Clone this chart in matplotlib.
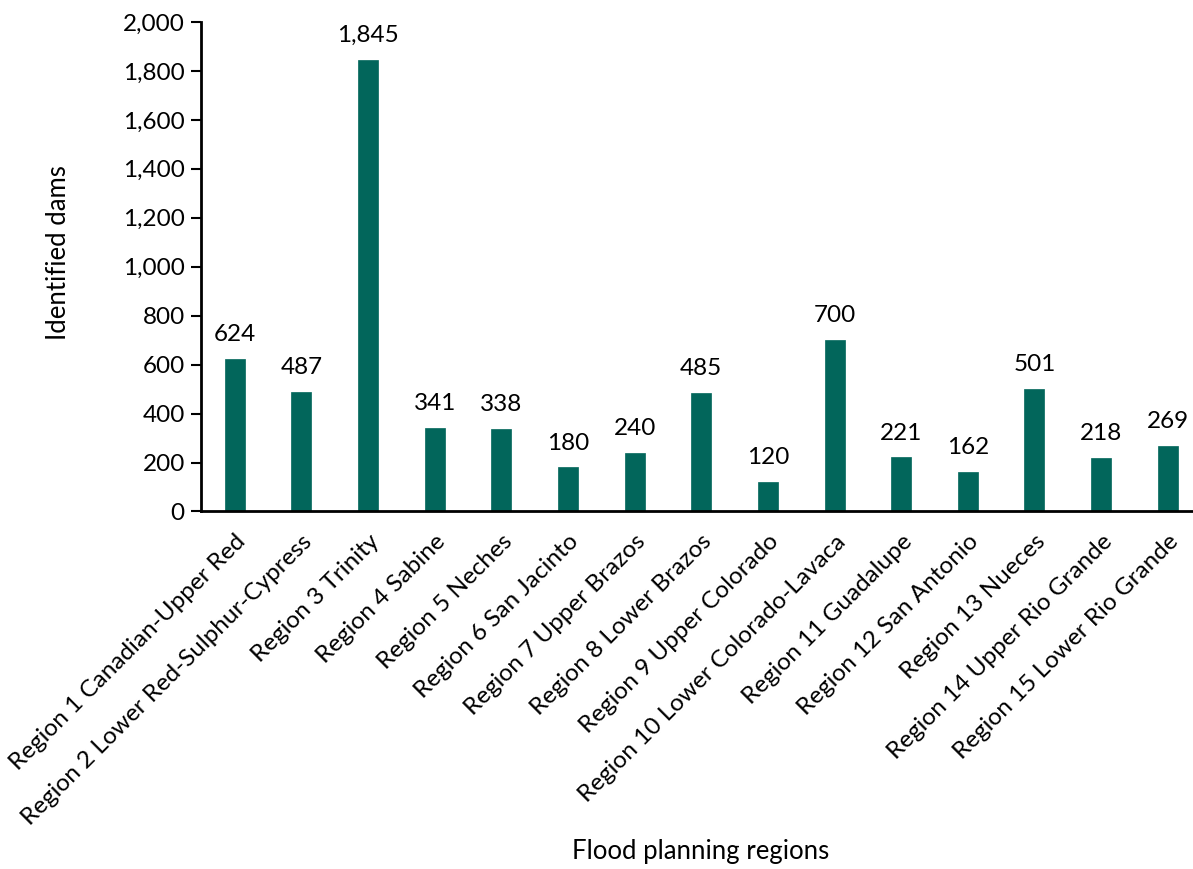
import matplotlib
matplotlib.use("Agg")
import matplotlib.pyplot as plt
from matplotlib.ticker import FuncFormatter, MultipleLocator

regions = [
    "Region 1 Canadian-Upper Red",
    "Region 2 Lower Red-Sulphur-Cypress",
    "Region 3 Trinity",
    "Region 4 Sabine",
    "Region 5 Neches",
    "Region 6 San Jacinto",
    "Region 7 Upper Brazos",
    "Region 8 Lower Brazos",
    "Region 9 Upper Colorado",
    "Region 10 Lower Colorado-Lavaca",
    "Region 11 Guadalupe",
    "Region 12 San Antonio",
    "Region 13 Nueces",
    "Region 14 Upper Rio Grande",
    "Region 15 Lower Rio Grande",
]
dams = [624, 487, 1845, 341, 338, 180, 240, 485, 120, 700, 221, 162, 501, 218, 269]

plt.rcParams['font.family'] = ['Lato', 'DejaVu Sans']
fs = 17.5

fig = plt.figure(figsize=(11.93, 8.69), dpi=100)
ax = fig.add_axes([0.1689, 0.4114, 0.8378, 0.5633])

x = list(range(len(regions)))
bars = ax.bar(x, dams, width=0.3, color='#02665B', edgecolor='#02665B', linewidth=0.5)

for xi, v in zip(x, dams):
    ax.annotate(f"{v:,}", (xi, v), xytext=(0, 10), textcoords='offset points',
                ha='center', va='bottom', fontsize=fs, color='black')

ax.set_xlim(-0.5, len(regions) - 0.5)
ax.set_ylim(0, 2000)
ax.yaxis.set_major_locator(MultipleLocator(200))
ax.yaxis.set_major_formatter(FuncFormatter(lambda v, p: f"{int(v):,}"))

ax.set_xticks(x)
ax.set_xticklabels(regions, rotation=45, ha='right', rotation_mode='anchor', fontsize=fs)
ax.tick_params(axis='x', length=0, pad=14)
ax.tick_params(axis='y', length=7, width=1.5, direction='out', labelsize=fs, pad=5)

for s in ['top', 'right']:
    ax.spines[s].set_visible(False)
ax.spines['left'].set_linewidth(2)
ax.spines['bottom'].set_linewidth(2)

fig.text(59 / 1193, 1 - 253 / 869, "Identified dams", rotation=90,
         ha='center', va='center', fontsize=18.5)
fig.text(0.5875, 1 - 852 / 869, "Flood planning regions", ha='center', va='center', fontsize=18.5)

fig.savefig("out.png", dpi=100)
